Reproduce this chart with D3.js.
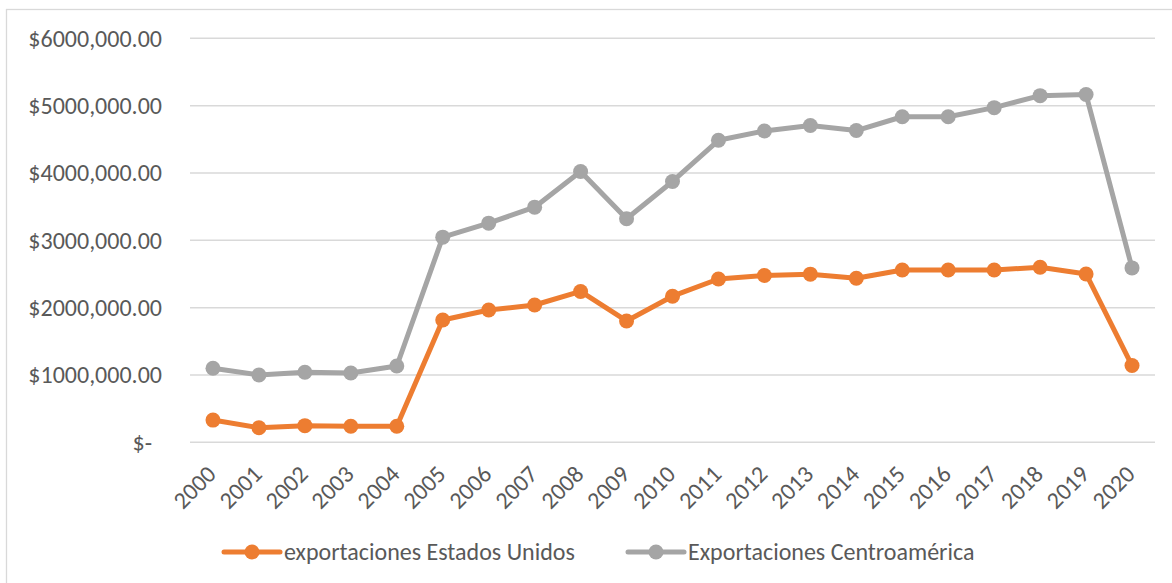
<!DOCTYPE html>
<html>
<head>
<meta charset="utf-8">
<script src="https://cdn.jsdelivr.net/npm/d3@7"></script>
<style>
  html, body { margin: 0; padding: 0; background: #fff; }
  svg { display: block; }
  text { font-family: Carlito, "Open Sans", "Noto Sans", sans-serif; fill: #595959; }
</style>
</head>
<body>
<div id="chart"></div>
<script>

var years = ["2000","2001","2002","2003","2004","2005","2006","2007","2008","2009","2010",
             "2011","2012","2013","2014","2015","2016","2017","2018","2019","2020"];

var exportsUS = [330000, 217000, 247000, 238000, 238000, 1816000, 1965000, 2039000, 2240000, 1802000, 2170000,
                 2425000, 2478000, 2497000, 2437000, 2559000, 2559000, 2559000, 2599000, 2500000, 1140000];

var exportsCA = [1099000, 1000000, 1040000, 1029000, 1133000, 3047000, 3255000, 3492000, 4022000, 3320000, 3874000,
                 4485000, 4624000, 4706000, 4630000, 4835000, 4835000, 4970000, 5148000, 5165000, 2590000];

var yTicks = [0, 1000000, 2000000, 3000000, 4000000, 5000000, 6000000];
var yTickLabels = ["$-", "$1000,000.00", "$2000,000.00", "$3000,000.00", "$4000,000.00", "$5000,000.00", "$6000,000.00"];

var seriesNames = ["exportaciones Estados Unidos", "Exportaciones Centroamérica"];
var seriesColors = ["#ED7D31", "#A5A5A5"];

var W = 1172, H = 583;
var plot = { left: 190, right: 1155, top: 38.3, bottom: 442.3 };
var fontSize = "24px";

var svg = d3.select("#chart").append("svg")
    .attr("width", W)
    .attr("height", H);

// outer frame
svg.append("rect")
    .attr("x", 6.5)
    .attr("y", 9.5)
    .attr("width", W + 10)
    .attr("height", H + 10)
    .attr("fill", "#fff")
    .attr("stroke", "#D9D9D9")
    .attr("stroke-width", 1.3);

var x = d3.scalePoint()
    .domain(years)
    .range([plot.left, plot.right])
    .padding(0.5);

var y = d3.scaleLinear()
    .domain([0, 6000000])
    .range([plot.bottom, plot.top]);

// gridlines
svg.append("g")
    .selectAll("line")
    .data(yTicks)
    .join("line")
    .attr("x1", plot.left)
    .attr("x2", plot.right)
    .attr("y1", function(d){ return y(d); })
    .attr("y2", function(d){ return y(d); })
    .attr("stroke", "#D9D9D9")
    .attr("stroke-width", 1.5);

// y axis labels
var yAxis = d3.axisLeft(y)
    .tickValues(yTicks)
    .tickSize(0)
    .tickPadding(0)
    .tickFormat(function(d, i){ return yTickLabels[i]; });

var gy = svg.append("g")
    .attr("transform", "translate(162,0)")
    .call(yAxis);
gy.select(".domain").remove();
gy.selectAll("text")
    .attr("font-size", fontSize)
    .attr("font-family", null)
    .attr("fill", "#595959")
    .attr("dy", "0.33em")
    .attr("x", function(d){ return d === 0 ? -10 : 0; });

// x axis labels, rotated
var xAxis = d3.axisBottom(x).tickSize(0).tickPadding(0);
var gx = svg.append("g")
    .attr("transform", "translate(0," + plot.bottom + ")")
    .call(xAxis);
gx.select(".domain").remove();
gx.selectAll("text")
    .attr("font-size", fontSize)
    .attr("font-family", null)
    .attr("fill", "#595959")
    .attr("text-anchor", "end")
    .attr("y", 0)
    .attr("dy", "0.32em")
    .attr("transform", "translate(-1.5,28) rotate(-45)");

// series
var series = [exportsUS, exportsCA];
var line = d3.line()
    .x(function(d, i){ return x(years[i]); })
    .y(function(d){ return y(d); });

series.forEach(function(vals, k){
    var g = svg.append("g");
    g.append("path")
        .datum(vals)
        .attr("d", line)
        .attr("fill", "none")
        .attr("stroke", seriesColors[k])
        .attr("stroke-width", 5)
        .attr("stroke-linejoin", "round");
    g.selectAll("circle")
        .data(vals)
        .join("circle")
        .attr("cx", function(d, i){ return x(years[i]); })
        .attr("cy", function(d){ return y(d); })
        .attr("r", 7.5)
        .attr("fill", seriesColors[k]);
});

// legend
var legendX = [224, 628];
var legendY = 552;
var lg = svg.append("g");
seriesNames.forEach(function(name, k){
    var lx = legendX[k];
    lg.append("line")
        .attr("x1", lx).attr("x2", lx + 56)
        .attr("y1", legendY).attr("y2", legendY)
        .attr("stroke", seriesColors[k])
        .attr("stroke-width", 5)
        .attr("stroke-linecap", "round");
    lg.append("circle")
        .attr("cx", lx + 28)
        .attr("cy", legendY)
        .attr("r", 7.5)
        .attr("fill", seriesColors[k]);
    lg.append("text")
        .attr("x", lx + 60)
        .attr("y", legendY)
        .attr("dy", "0.33em")
        .attr("font-size", fontSize)
        .text(name);
});

</script>
</body>
</html>
